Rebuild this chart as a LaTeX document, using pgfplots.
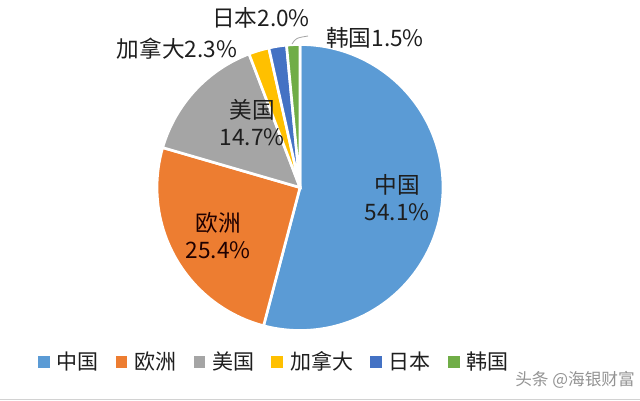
\documentclass[border=0pt]{standalone}
\usepackage{fontspec}
\setmainfont{Noto Sans CJK SC}
\usepackage{pgfplots}
\pgfplotsset{compat=1.18}

\definecolor{cn}{HTML}{5B9BD5}
\definecolor{eu}{HTML}{ED7D31}
\definecolor{us}{HTML}{A5A5A5}
\definecolor{ca}{HTML}{FFC000}
\definecolor{jp}{HTML}{4472C4}
\definecolor{kr}{HTML}{70AD47}
\definecolor{txt}{HTML}{1E1E1E}

% pie radius: 143 px at 0.6pt per px
\newcommand{\R}{85.8pt}

\begin{document}
\begin{tikzpicture}
\begin{axis}[
    x=0.6pt, y=0.6pt,
    xmin=0, xmax=640, ymin=0, ymax=400,
    hide axis, clip=false,
    legend columns=-1,
    legend style={draw=none, fill=none, at={(axis cs:275,38)}, anchor=center,
        font=\fontsize{12.6}{14}\selectfont, text=txt,
        /tikz/every odd column/.append style={column sep=2.5pt},
        /tikz/every even column/.append style={column sep=8.2pt}},
    legend image code/.code={\fill[#1] (0pt,-3.2pt) rectangle (6.4pt,3.2pt);},
]
\coordinate (bl) at (axis cs:0,0);
\coordinate (tr) at (axis cs:640,400);
\coordinate (o) at (axis cs:300,212.5);

% shares in percent, clockwise from 12 o'clock: 54.1 25.4 14.7 2.3 2.0 1.5
\path[fill=cn, draw=white, line width=1.6pt] (o) -- ++(90:\R)
    arc[start angle=90, end angle={90-3.6*54.1}, radius=\R] -- cycle;
\path[fill=eu, draw=white, line width=1.6pt] (o) -- ++({90-3.6*54.1}:\R)
    arc[start angle={90-3.6*54.1}, end angle={90-3.6*79.5}, radius=\R] -- cycle;
\path[fill=us, draw=white, line width=1.6pt] (o) -- ++({90-3.6*79.5}:\R)
    arc[start angle={90-3.6*79.5}, end angle={90-3.6*94.2}, radius=\R] -- cycle;
\path[fill=ca, draw=white, line width=1.6pt] (o) -- ++({90-3.6*94.2}:\R)
    arc[start angle={90-3.6*94.2}, end angle={90-3.6*96.5}, radius=\R] -- cycle;
\path[fill=jp, draw=white, line width=1.6pt] (o) -- ++({90-3.6*96.5}:\R)
    arc[start angle={90-3.6*96.5}, end angle={90-3.6*98.5}, radius=\R] -- cycle;
\path[fill=kr, draw=white, line width=1.6pt] (o) -- ++({90-3.6*98.5}:\R)
    arc[start angle={90-3.6*98.5}, end angle={90-3.6*100}, radius=\R] -- cycle;

\addlegendimage{cn}\addlegendentry{中国}
\addlegendimage{eu}\addlegendentry{欧洲}
\addlegendimage{us}\addlegendentry{美国}
\addlegendimage{ca}\addlegendentry{加拿大}
\addlegendimage{jp}\addlegendentry{日本}
\addlegendimage{kr}\addlegendentry{韩国}

% slice labels
\begin{scope}[every node/.style={align=center, text=txt, font=\fontsize{13.6}{16.2}\selectfont}]
\node at (axis cs:397,202) {中国\\54.1\%};
\node[text=black!80!red!60!black] at (axis cs:218,164) {欧洲\\25.4\%};
\node at (axis cs:252,277) {美国\\14.7\%};
\node at (axis cs:177,351) {加拿大2.3\%};
\node at (axis cs:261,382) {日本2.0\%};
\node at (axis cs:375,362) {韩国1.5\%};
\end{scope}
\draw[gray!70, line width=0.5pt] (axis cs:292,356) .. controls (axis cs:296,362) .. (axis cs:308,364);

% watermark and bottom edge
\node[text=gray!85, font=\fontsize{10}{11}\selectfont] at (axis cs:575,20) {头条 @海银财富};
\fill[gray!35] (axis cs:0,0) rectangle (axis cs:640,1.5);
\end{axis}
\pgfresetboundingbox
\path[use as bounding box] (bl) rectangle (tr);
\end{tikzpicture}
\end{document}
